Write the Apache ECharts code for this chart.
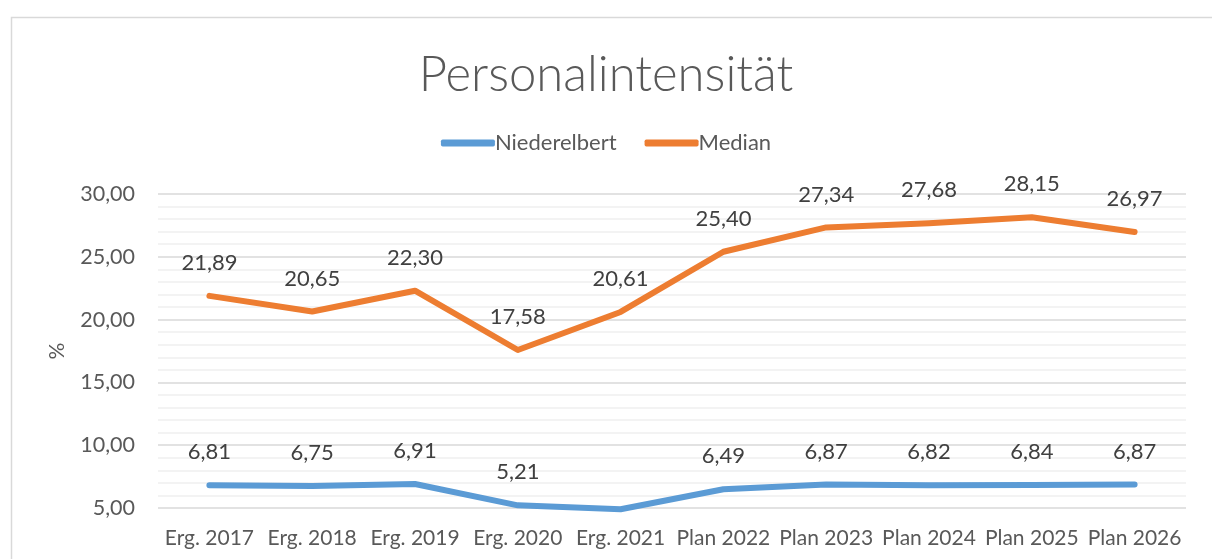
<!DOCTYPE html>
<html>
<head>
<meta charset="utf-8">
<script src="https://cdn.jsdelivr.net/npm/echarts@6/dist/echarts.min.js"></script>
<style>
html,body{margin:0;padding:0;background:#fff;}
#c{width:1212px;height:559px;}
</style>
</head>
<body>
<div id="c"></div>
<script>
var categories = ['Erg. 2017','Erg. 2018','Erg. 2019','Erg. 2020','Erg. 2021','Plan 2022','Plan 2023','Plan 2024','Plan 2025','Plan 2026'];
var niederelbert = [6.81, 6.75, 6.91, 5.21, 4.90, 6.49, 6.87, 6.82, 6.84, 6.87];
var median = [21.89, 20.65, 22.30, 17.58, 20.61, 25.40, 27.34, 27.68, 28.15, 26.97];
var yTicks = [5, 10, 15, 20, 25, 30];
var hiddenLabels = {'Niederelbert': [4]};

var FONT = 'Lato, "Open Sans", sans-serif';
var TXT = '#595959';
function fmt(v){ return v.toFixed(2).replace('.', ','); }
function mkData(name, arr){
  return arr.map(function(v, i){
    var hide = (hiddenLabels[name] || []).indexOf(i) >= 0;
    return hide ? {value: v, label: {show: false}} : v;
  });
}
function lineSeries(name, arr, color){
  return {
    name: name, type: 'line', data: mkData(name, arr),
    showSymbol: true, symbol: 'circle', symbolSize: 0, clip: false,
    lineStyle: {color: color, width: 6, cap: 'round', join: 'round'},
    itemStyle: {color: color},
    label: {show: true, position: 'top', distance: 22, fontFamily: FONT, fontSize: 22, color: '#404040',
      formatter: function(p){ return fmt(p.value); }}
  };
}
var chart = echarts.init(document.getElementById('c'));
chart.setOption({
  animation: false,
  graphic: [{
    type: 'rect', left: 9, top: 15, shape: {width: 1400, height: 800},
    style: {fill: 'none', stroke: '#D9D9D9', lineWidth: 1.5}, silent: true
  }],
  title: {
    text: 'Personalintensität', left: 'center', top: 46,
    textStyle: {fontFamily: FONT, fontSize: 49, fontWeight: 300, color: TXT}
  },
  legend: {
    top: 127, left: 'center', itemWidth: 54, itemHeight: 7, itemGap: 28,
    icon: 'roundRect',
    textStyle: {fontFamily: FONT, fontSize: 22, color: TXT, padding: [0,0,0,-5]},
    data: ['Niederelbert', 'Median']
  },
  grid: {left: 158, right: 26, top: 194, bottom: 51},
  xAxis: {
    type: 'category', data: categories, boundaryGap: true,
    axisLine: {show: false}, axisTick: {show: false},
    axisLabel: {fontFamily: FONT, fontSize: 21, color: TXT, margin: 20, interval: 0}
  },
  yAxis: {
    type: 'value', min: yTicks[0], max: yTicks[yTicks.length-1], interval: 5,
    name: '%', nameLocation: 'middle', nameRotate: 90, nameGap: 90,
    nameTextStyle: {fontFamily: FONT, fontSize: 21, color: TXT},
    axisLine: {show: false}, axisTick: {show: false},
    axisLabel: {fontFamily: FONT, fontSize: 21.5, color: TXT, margin: 23, formatter: function(v){ return fmt(v); }},
    splitLine: {lineStyle: {color: '#D9D9D9', width: 1.5}},
    minorTick: {show: false, splitNumber: 5},
    minorSplitLine: {show: true, lineStyle: {color: '#EFEFEF', width: 1.5}}
  },
  series: [
    lineSeries('Niederelbert', niederelbert, '#5B9BD5'),
    lineSeries('Median', median, '#ED7D31')
  ]
});
</script>
</body>
</html>
